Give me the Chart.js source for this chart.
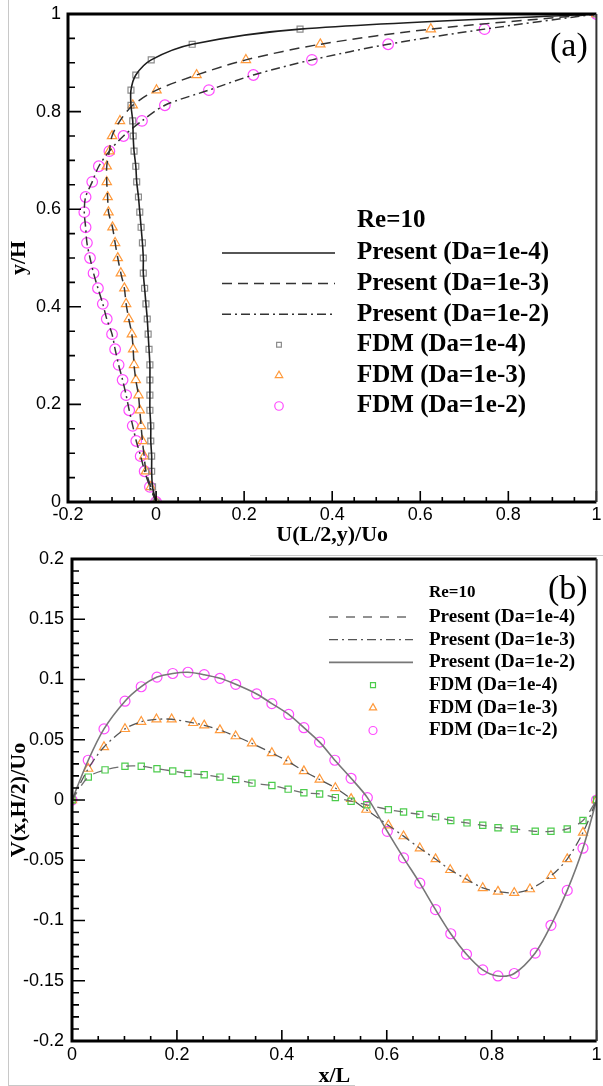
<!DOCTYPE html>
<html>
<head>
<meta charset="utf-8">
<script src="https://cdn.jsdelivr.net/npm/chart.js@4.4.0/dist/chart.umd.min.js"></script>
<style>
  html, body { margin: 0; padding: 0; background: #fff; overflow: hidden; }
  #page { position: relative; width: 603px; height: 1086px; overflow: hidden; }
  canvas { position: absolute; left: 0; }
  #velU { top: 0; }
  #velV { top: 550px; }
  .rule { position: absolute; background: #c8c8c8; }
</style>
</head>
<body>
<div id="page">
  <canvas id="velU" width="603" height="550"></canvas>
  <canvas id="velV" width="603" height="545"></canvas>
  <div class="rule" style="left:8px;top:0;width:1px;height:1086px"></div>
  <div class="rule" style="left:250px;top:555px;width:353px;height:1px"></div>
  <div class="rule" style="left:8px;top:1085px;width:347px;height:1px"></div>
</div>
<script>
// (a) U along the vertical centreline x = L/2
const yH = [0, 0.031, 0.063, 0.094, 0.125, 0.156, 0.188, 0.219, 0.25, 0.281, 0.313,
  0.344, 0.375, 0.406, 0.438, 0.469, 0.5, 0.531, 0.563, 0.594, 0.625, 0.656, 0.688,
  0.719, 0.75, 0.781, 0.813, 0.844, 0.875, 0.906, 0.938, 0.969, 1];
const uDa4 = [0, -0.008, -0.010, -0.010, -0.012, -0.012, -0.014, -0.014, -0.014, -0.014,
  -0.016, -0.018, -0.020, -0.023, -0.026, -0.029, -0.029, -0.031, -0.034, -0.037, -0.040,
  -0.044, -0.046, -0.050, -0.052, -0.053, -0.057, -0.057, -0.046, -0.011, 0.082, 0.327, 1];
const uDa3 = [0, -0.012, -0.023, -0.027, -0.031, -0.034, -0.037, -0.040, -0.046, -0.050,
  -0.052, -0.055, -0.062, -0.068, -0.072, -0.080, -0.087, -0.093, -0.099, -0.108, -0.110,
  -0.112, -0.112, -0.106, -0.100, -0.082, -0.053, 0.001, 0.092, 0.204, 0.373, 0.624, 1];
const uDa2 = [0, -0.014, -0.026, -0.035, -0.045, -0.053, -0.061, -0.068, -0.076, -0.085,
  -0.093, -0.100, -0.112, -0.121, -0.132, -0.142, -0.150, -0.157, -0.160, -0.163, -0.160,
  -0.145, -0.130, -0.106, -0.074, -0.032, 0.020, 0.120, 0.221, 0.354, 0.527, 0.746, 1];

// (b) V along the horizontal centreline y = H/2
const xDa4 = [0, 0.031, 0.063, 0.101, 0.132, 0.162, 0.192, 0.221, 0.252, 0.282, 0.312,
  0.343, 0.381, 0.412, 0.442, 0.472, 0.502, 0.532, 0.562, 0.603, 0.632, 0.663, 0.693,
  0.722, 0.753, 0.783, 0.812, 0.843, 0.883, 0.913, 0.944, 0.974, 1];
const vDa4 = [0, 0.019, 0.025, 0.028, 0.028, 0.026, 0.024, 0.022, 0.021, 0.019, 0.017,
  0.014, 0.012, 0.009, 0.006, 0.005, 0.002, -0.001, -0.004, -0.008, -0.010, -0.012, -0.014,
  -0.017, -0.019, -0.021, -0.023, -0.024, -0.026, -0.026, -0.024, -0.017, 0];
const xDa3 = [0, 0.031, 0.061, 0.101, 0.132, 0.161, 0.190, 0.231, 0.252, 0.282, 0.312,
  0.343, 0.381, 0.412, 0.442, 0.472, 0.502, 0.532, 0.561, 0.603, 0.632, 0.663, 0.693,
  0.721, 0.753, 0.783, 0.812, 0.843, 0.873, 0.913, 0.944, 0.974, 1];
const vDa3 = [0, 0.026, 0.044, 0.059, 0.065, 0.067, 0.067, 0.064, 0.062, 0.058, 0.053,
  0.047, 0.039, 0.032, 0.024, 0.017, 0.010, 0.001, -0.008, -0.021, -0.030, -0.040, -0.049,
  -0.058, -0.066, -0.073, -0.076, -0.077, -0.074, -0.063, -0.049, -0.027, 0];
const xDa2 = [0, 0.031, 0.061, 0.101, 0.132, 0.162, 0.192, 0.221, 0.252, 0.282, 0.312,
  0.352, 0.381, 0.413, 0.442, 0.472, 0.501, 0.532, 0.563, 0.601, 0.632, 0.663, 0.693,
  0.722, 0.752, 0.783, 0.812, 0.843, 0.883, 0.913, 0.944, 0.974, 1];
const vDa2 = [0, 0.033, 0.059, 0.082, 0.094, 0.102, 0.105, 0.106, 0.104, 0.101, 0.096,
  0.088, 0.080, 0.071, 0.060, 0.048, 0.033, 0.018, 0.002, -0.026, -0.048, -0.069, -0.091,
  -0.111, -0.128, -0.141, -0.146, -0.144, -0.127, -0.104, -0.075, -0.040, 0];

const pts = (xs, ys) => xs.map((v, i) => ({x: v, y: ys[i]}));

const ORANGE = '#ff9a3c', MAGENTA = '#ff4cff', GREEN = '#4ccc4c', SQGRAY = '#8c8c8c';
const SERIF = '"Liberation Serif", "Times New Roman", serif';
const SANS = '"Liberation Sans", Arial, sans-serif';

function curve(label, data, color, dash, width) {
  return {label, data, showLine: true, pointRadius: 0, borderColor: color,
    borderWidth: width, borderDash: dash, tension: 0.3, fill: false};
}
function marks(label, data, color, style, r) {
  return {label, data, showLine: false, pointStyle: style, pointRadius: r,
    pointBorderColor: color, borderColor: color, pointBackgroundColor: 'rgba(0,0,0,0)',
    pointBorderWidth: 1.2, borderWidth: 1.2};
}

// plain tick text: 1 not 1.0, 0.1 not 0.10, never -0
function plain(value) {
  const r = Math.round(value * 1000) / 1000;
  return String(r === 0 ? 0 : r);
}

// run over every minor tick position, flagging the majors
function tickRun(scale, minor, major, fn) {
  const n = Math.round((scale.max - scale.min) / minor);
  const per = Math.round(major / minor);
  for (let i = 0; i <= n; i++) fn(scale.getPixelForValue(scale.min + i * minor), i % per === 0);
}

// inward ticks, frame, legend block and panel tag
const decor = {
  id: 'decor',
  afterDraw(chart, args, o) {
    const {ctx, chartArea: a} = chart;
    const xs = chart.scales.x, ys = chart.scales.y;
    ctx.save();
    ctx.strokeStyle = '#000';
    ctx.lineWidth = 1.6;
    ctx.beginPath();
    tickRun(xs, o.xMinor, o.xMajor, (p, major) => {
      ctx.moveTo(p, a.bottom);
      ctx.lineTo(p, a.bottom - (major ? 11 : 5));
    });
    tickRun(ys, o.yMinor, o.yMajor, (p, major) => {
      ctx.moveTo(a.left, p);
      ctx.lineTo(a.left + (major ? 13 : 7), p);
    });
    ctx.stroke();

    ctx.lineWidth = 3;
    ctx.beginPath();
    ctx.moveTo(a.right, a.top);
    ctx.lineTo(a.left, a.top);
    ctx.lineTo(a.left, a.bottom);
    ctx.lineTo(a.right, a.bottom);
    ctx.stroke();
    ctx.lineWidth = 2;
    ctx.strokeStyle = '#333';
    ctx.beginPath();
    ctx.moveTo(a.right, a.top);
    ctx.lineTo(a.right, a.bottom);
    ctx.stroke();

    ctx.fillStyle = '#000';
    ctx.textAlign = 'left';
    ctx.textBaseline = 'middle';
    ctx.font = o.titleFont;
    ctx.fillText('Re=10', o.textX, o.titleY);
    chart.data.datasets.forEach((ds, i) => {
      const y = o.rowY + i * o.rowGap;
      ctx.save();
      if (ds.showLine) {
        ctx.strokeStyle = ds.borderColor;
        ctx.lineWidth = ds.borderWidth;
        ctx.setLineDash(ds.borderDash || []);
        ctx.beginPath();
        ctx.moveTo(o.lineX0, y);
        ctx.lineTo(o.lineX1, y);
        ctx.stroke();
      } else {
        ctx.strokeStyle = ds.pointBorderColor;
        ctx.fillStyle = 'rgba(0,0,0,0)';
        ctx.lineWidth = 1.2;
        Chart.helpers.drawPoint(ctx, {pointStyle: ds.pointStyle, radius: ds.pointRadius * 0.8,
          borderWidth: 1.2, rotation: 0}, o.markX, y);
      }
      ctx.restore();
      ctx.font = o.rowFont;
      ctx.fillText(ds.label, o.textX, y);
    });

    ctx.font = '34px ' + SERIF;
    ctx.fillText(o.tag, o.tagX, o.tagY);
    ctx.restore();
  }
};

function axis(min, max, step, title, tickPad, titlePad, fit) {
  return {
    type: 'linear', min, max,
    ticks: {stepSize: step, color: '#000', padding: tickPad, font: {family: SANS, size: 18},
      callback: plain},
    grid: {display: false, drawTicks: false},
    border: {display: false},
    title: {display: true, text: title, color: '#000', padding: titlePad,
      font: {family: SERIF, size: 22, weight: 'bold'}},
    afterFit: fit
  };
}

function build(id, datasets, scales, padding, decorOpts) {
  return new Chart(document.getElementById(id), {
    type: 'scatter',
    data: {datasets},
    options: {
      responsive: false,
      animation: false,
      events: [],
      layout: {padding},
      scales,
      plugins: {legend: {display: false}, tooltip: {enabled: false}, decor: decorOpts}
    },
    plugins: [decor]
  });
}

build('velU', [
  curve('Present (Da=1e-4)', pts(uDa4, yH), '#1e1e1e', [], 1.6),
  curve('Present (Da=1e-3)', pts(uDa3, yH), '#333', [10, 6], 1.5),
  curve('Present (Da=1e-2)', pts(uDa2, yH), '#333', [9, 4, 2, 4], 1.5),
  marks('FDM (Da=1e-4)', pts(uDa4, yH), SQGRAY, 'rect', 4.2),
  marks('FDM (Da=1e-3)', pts(uDa3, yH), ORANGE, 'triangle', 5.4),
  marks('FDM (Da=1e-2)', pts(uDa2, yH), MAGENTA, 'circle', 5.3)
], {
  x: axis(-0.2, 1, 0.2, 'U(L/2,y)/Uo', 2, {top: 0, bottom: 1},
    s => { s.height = 48; s.paddingLeft = 0; s.paddingRight = 0; }),
  y: axis(0, 1, 0.2, 'y/H', 7, {top: 6, bottom: 0},
    s => { s.width = 68; s.paddingTop = 0; s.paddingBottom = 0; })
}, {left: 0, right: 3, top: 14, bottom: 0}, {
  xMinor: 0.05, xMajor: 0.2, yMinor: 0.05, yMajor: 0.2,
  titleFont: 'bold 25px ' + SERIF, rowFont: 'bold 25px ' + SERIF,
  textX: 357, titleY: 221, rowY: 253, rowGap: 30.6,
  lineX0: 222, lineX1: 335, markX: 279,
  tag: '(a)', tagX: 550, tagY: 47
});

build('velV', [
  curve('Present (Da=1e-4)', pts(xDa4, vDa4), '#6e6e6e', [9, 8], 1.3),
  curve('Present (Da=1e-3)', pts(xDa3, vDa3), '#555', [9, 4, 2, 4], 1.3),
  curve('Present (Da=1e-2)', pts(xDa2, vDa2), '#777', [], 1.6),
  marks('FDM (Da=1e-4)', pts(xDa4, vDa4), GREEN, 'rect', 4.4),
  marks('FDM (Da=1e-3)', pts(xDa3, vDa3), ORANGE, 'triangle', 5.2),
  marks('FDM (Da=1c-2)', pts(xDa2, vDa2), MAGENTA, 'circle', 5)
], {
  x: axis(0, 1, 0.2, 'x/L', 3, {top: 0, bottom: 5},
    s => { s.height = 54; s.paddingLeft = 0; s.paddingRight = 0; }),
  y: axis(-0.2, 0.2, 0.05, 'V(x,H/2)/Uo', 8, {top: 6, bottom: 0},
    s => { s.width = 72; s.paddingTop = 0; s.paddingBottom = 0; })
}, {left: 0, right: 2, top: 9, bottom: 0}, {
  xMinor: 0.05, xMajor: 0.2, yMinor: 0.01, yMajor: 0.05,
  titleFont: 'bold 17px ' + SERIF, rowFont: 'bold 19px ' + SERIF,
  textX: 429, titleY: 43, rowY: 67, rowGap: 22.7,
  lineX0: 329, lineX1: 413, markX: 373,
  tag: '(b)', tagX: 548, tagY: 40
});
</script>
</body>
</html>
